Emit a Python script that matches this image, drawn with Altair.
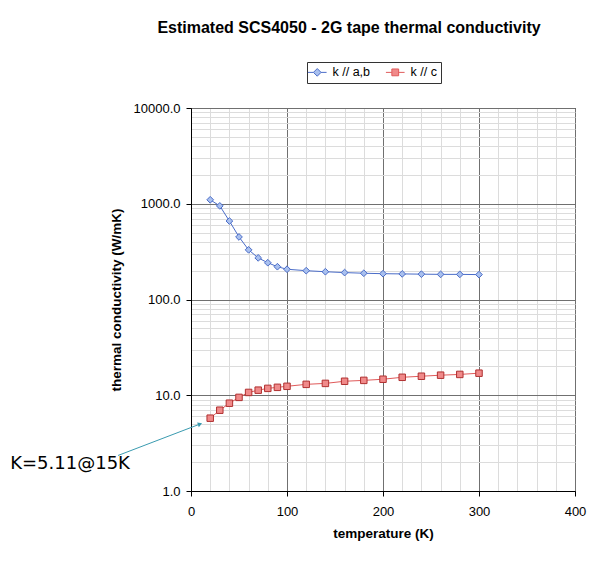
import altair as alt
import pandas as pd

# ---- data ----
temps = [20, 30, 40, 50, 60, 70, 80, 90, 100, 120, 140, 160, 180, 200, 220, 240, 260, 280, 300]
k_ab = [1100, 950, 660, 450, 330, 272, 242, 220, 207, 200, 195, 191, 188, 186, 185, 184, 183, 183, 182]
k_c = [5.76, 6.98, 8.26, 9.5, 10.7, 11.3, 11.8, 12.1, 12.4, 13.0, 13.3, 14.0, 14.3, 14.7, 15.4, 15.8, 16.2, 16.5, 17.0]
series_names = ["k // a,b", "k // c"]

x_ticks = list(range(0, 401, 20))
y_ticks = [m * 10 ** e for e in range(0, 4) for m in range(1, 10)] + [10000]

# annotation (data coordinates)
note_text = ["K=5.11@15K"]
note_T = [-126]
note_k = [1.9]
arrow_T = [-76, 9.4]
arrow_k = [2.35, 5.0]

line_colors = ["#4a6cc8", "#e05a5a"]
fill_colors = ["#a9c0ee", "#f08a8a"]
stroke_colors = ["#4a6cc8", "#b03030"]

df = pd.DataFrame({
    "T": temps + temps,
    "k": k_ab + k_c,
    "series": [series_names[0]] * len(temps) + [series_names[1]] * len(temps),
})
note_df = pd.DataFrame({"T": note_T, "k": note_k, "text": note_text})
arrow_df = pd.DataFrame({"T": [arrow_T[0]], "T2": [arrow_T[1]], "k": [arrow_k[0]], "k2": [arrow_k[1]]})
head_df = pd.DataFrame({"T": [arrow_T[1]], "k": [arrow_k[1]]})

x_scale = alt.Scale(domain=[0, 400], nice=False)
y_scale = alt.Scale(type="log", domain=[1, 10000], nice=False)

major_x = "datum.value % 100 === 0"
major_y = "abs(log(datum.value)/LN10 - round(log(datum.value)/LN10)) < 1e-6"

x_enc = alt.X(
    "T:Q", scale=x_scale,
    axis=alt.Axis(
        values=x_ticks, title="temperature (K)",
        labelExpr=f"{major_x} ? datum.label : ''",
        labelOverlap=False, labelFlush=False,
        gridColor=alt.expr(f"{major_x} ? '#707070' : '#dcdcdc'"),
        tickOpacity=alt.expr(f"{major_x} ? 1 : 0"),
        tickSize=5, labelPadding=9, titlePadding=8,
    ),
)
y_enc = alt.Y(
    "k:Q", scale=y_scale,
    axis=alt.Axis(
        values=y_ticks, title="thermal conductivity  (W/mK)",
        labelExpr=f"{major_y} ? format(datum.value, '.1f') : ''",
        labelOverlap=False, labelFlush=False,
        gridColor=alt.expr(f"{major_y} ? '#707070' : '#dcdcdc'"),
        tickOpacity=alt.expr(f"{major_y} ? 1 : 0"),
        tickSize=5, labelPadding=6, titlePadding=10,
    ),
)

layers = []
shapes = ["diamond", "square"]
for i, name in enumerate(series_names):
    base = alt.Chart(df).transform_filter(alt.datum.series == name)
    layers.append(base.mark_line(color=line_colors[i], strokeWidth=1).encode(x=x_enc, y=y_enc))
    layers.append(base.mark_point(shape=shapes[i], filled=True, fill=fill_colors[i],
                                  stroke=stroke_colors[i], strokeWidth=1, opacity=1,
                                  size=45 if i == 0 else 42).encode(x=x_enc, y=y_enc))

legend_paths = [
    "M-2.2,0H-0.9M0.9,0H2.2M0,-0.9L0.9,0L0,0.9L-0.9,0Z",
    "M-2.2,0H-0.8M0.8,0H2.2M-0.8,-0.8H0.8V0.8H-0.8Z",
]
leg = alt.Legend(orient="none", legendX=116, legendY=-46, direction="horizontal",
                 title=None, strokeColor="#333", padding=4,
                 labelFont="Liberation Sans", labelFontSize=12.5,
                 labelColor="black", symbolSize=72, symbolStrokeWidth=1,
                 symbolOpacity=1, labelOffset=9, columnPadding=12)
legend_layer = alt.Chart(df).mark_point(filled=True, opacity=0, size=72).encode(
    x=x_enc, y=y_enc,
    shape=alt.Shape("series:N", scale=alt.Scale(domain=series_names, range=legend_paths), legend=leg),
    fill=alt.Fill("series:N", scale=alt.Scale(domain=series_names, range=fill_colors), legend=leg),
    stroke=alt.Stroke("series:N", scale=alt.Scale(domain=series_names, range=line_colors), legend=leg),
)
layers.append(legend_layer)

arrow = alt.Chart(arrow_df).mark_rule(color="#3a9bb0", strokeWidth=1).encode(
    x=x_enc, x2="T2:Q", y=y_enc, y2="k2:Q")
head = alt.Chart(head_df).mark_point(shape="triangle-right", angle=341, filled=True,
                                     color="#3a9bb0", size=25, opacity=1).encode(x=x_enc, y=y_enc)
note = alt.Chart(note_df).mark_text(font="DejaVu Sans", fontSize=18, color="black", align="center").encode(
    x=x_enc, y=y_enc, text="text:N")
layers += [arrow, head, note]

chart = alt.layer(*layers).properties(
    width=384, height=383,
    padding={"left": 183, "top": 100, "right": 21, "bottom": 50},
    autosize=alt.AutoSizeParams(type="none"),
    title=alt.TitleParams("Estimated SCS4050 - 2G tape thermal conductivity",
                          font="Liberation Sans", fontSize=16, fontWeight="bold",
                          anchor="middle", dx=-34, offset=26, color="black"),
).configure_view(stroke="black", strokeWidth=1).configure_axis(
    domainColor="black", tickColor="black", labelFont="Liberation Sans", labelFontSize=13,
    labelColor="black", titleFont="Liberation Sans", titleFontSize=13.5, titleFontWeight="bold",
    titleColor="black",
)

chart.save("out.html", embed_options={"renderer": "svg", "actions": False})
